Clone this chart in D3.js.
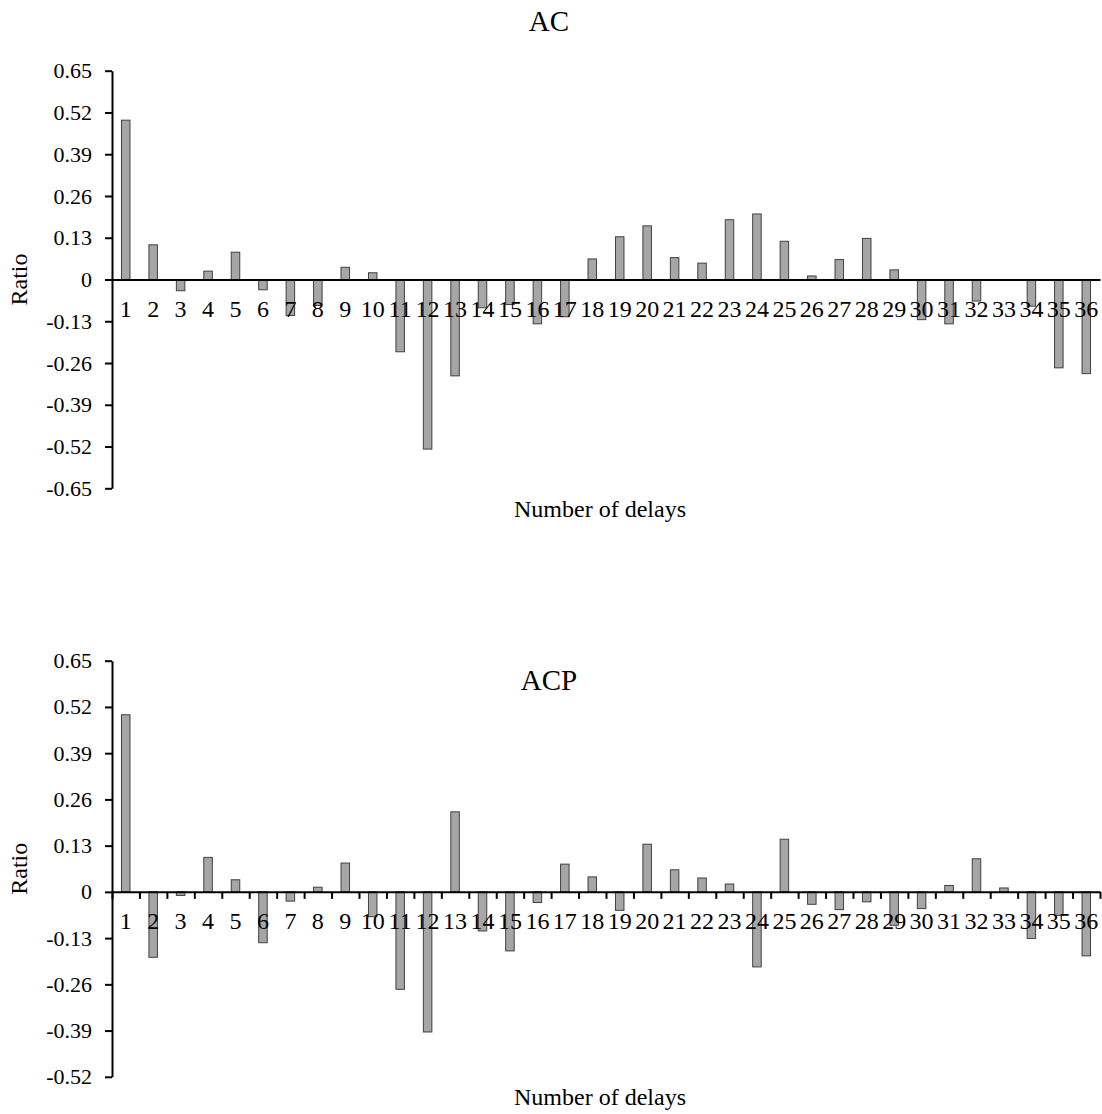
<!DOCTYPE html>
<html lang="en">
<head>
<meta charset="UTF-8">
<title>AC / ACP</title>
<script src="https://d3js.org/d3.v7.min.js"></script>
<style>
    body { margin: 0; background: #fff; }
    svg text { font-family: "Liberation Serif", "Times New Roman", serif; fill: #000; }
    .bar { fill: #a6a6a6; stroke: #404040; stroke-width: 1px; }
    .axis path, .axis line { stroke: #000; stroke-width: 2px; }
</style>
</head>
<body>
<svg id="chart" width="1102" height="1114"></svg>
<script>
    // data
    var delays = d3.range(1, 37);
    var acValues = [0.496, 0.108, -0.035, 0.026, 0.085, -0.032, -0.112, -0.081, 0.038, 0.021,
                    -0.225, -0.528, -0.300, -0.088, -0.078, -0.138, -0.116, 0.064, 0.133, 0.167,
                    0.068, 0.051, 0.186, 0.204, 0.119, 0.011, 0.062, 0.128, 0.030, -0.125,
                    -0.138, -0.067, 0, -0.083, -0.275, -0.293];
    var acpValues = [0.498, -0.184, -0.010, 0.097, 0.034, -0.143, -0.026, 0.013, 0.081, -0.070,
                     -0.274, -0.394, 0.225, -0.110, -0.166, -0.030, 0.078, 0.042, -0.052, 0.134,
                     0.062, 0.039, 0.022, -0.211, 0.148, -0.035, -0.050, -0.028, -0.094, -0.047,
                     0.018, 0.093, 0.011, -0.131, -0.066, -0.180];
    var acTicks = [0.65, 0.52, 0.39, 0.26, 0.13, 0, -0.13, -0.26, -0.39, -0.52, -0.65];
    var acpTicks = [0.65, 0.52, 0.39, 0.26, 0.13, 0, -0.13, -0.26, -0.39, -0.52];

    var svg = d3.select("#chart");
    var left = 112, right = 1100;

    function fmt(v) { return v === 0 ? "0" : d3.format(".2f")(v).replace("\u2212", "-"); }

    function drawChart(opts) {
        var g = svg.append("g");
        var y = d3.scaleLinear().domain(d3.extent(opts.ticks)).range([opts.bottom, opts.top]);
        var x = d3.scaleBand().domain(delays).range([left, right]).paddingInner(0.69).paddingOuter(0.345);
        var xb = d3.scaleLinear().domain([0, delays.length]).range([left, right]);
        var y0 = y(0);

        // bars
        g.selectAll("rect.bar").data(opts.values).enter().append("rect")
            .attr("class", "bar")
            .attr("x", function(d, i) { return x(delays[i]); })
            .attr("width", x.bandwidth())
            .attr("y", function(d) { return d >= 0 ? y(d) : y0; })
            .attr("height", function(d) { return Math.abs(y(d) - y0); });

        // zero line with (optional) boundary ticks
        g.append("g").attr("class", "axis")
            .attr("transform", "translate(0," + y0 + ")")
            .call(d3.axisBottom(xb).tickValues(d3.range(0, delays.length + 1))
                .tickSize(opts.xTicks ? 7 : 0).tickSizeOuter(0).tickFormat(""));

        // category labels
        var lab = g.append("g")
            .attr("transform", "translate(0," + y0 + ")")
            .call(d3.axisBottom(x).tickSize(0).tickPadding(20));
        lab.select(".domain").remove();
        lab.selectAll("text").style("font-size", "24px").style("font-family", null);

        // y axis
        var ya = g.append("g").attr("class", "axis")
            .attr("transform", "translate(" + left + ",0)")
            .call(d3.axisLeft(y).tickValues(opts.ticks).tickFormat(fmt).tickSize(7).tickSizeOuter(0).tickPadding(13));
        ya.selectAll("text").style("font-size", "22px").style("font-family", null);

        // titles
        g.append("text").attr("x", 549).attr("y", opts.titleY)
            .attr("text-anchor", "middle").style("font-size", "29px").text(opts.title);
        g.append("text").attr("x", 600).attr("y", opts.xTitleY)
            .attr("text-anchor", "middle").style("font-size", "24px").text("Number of delays");
        g.append("text")
            .attr("transform", "translate(27," + ((opts.top + opts.bottom) / 2) + ") rotate(-90)")
            .attr("text-anchor", "middle").style("font-size", "24px").text("Ratio");
    }

    drawChart({ values: acValues, ticks: acTicks, top: 70.7, bottom: 488.3,
                title: "AC", titleY: 31, xTitleY: 517, xTicks: false });
    drawChart({ values: acpValues, ticks: acpTicks, top: 660.7, bottom: 1076.8,
                title: "ACP", titleY: 690, xTitleY: 1105, xTicks: true });
</script>
</body>
</html>
